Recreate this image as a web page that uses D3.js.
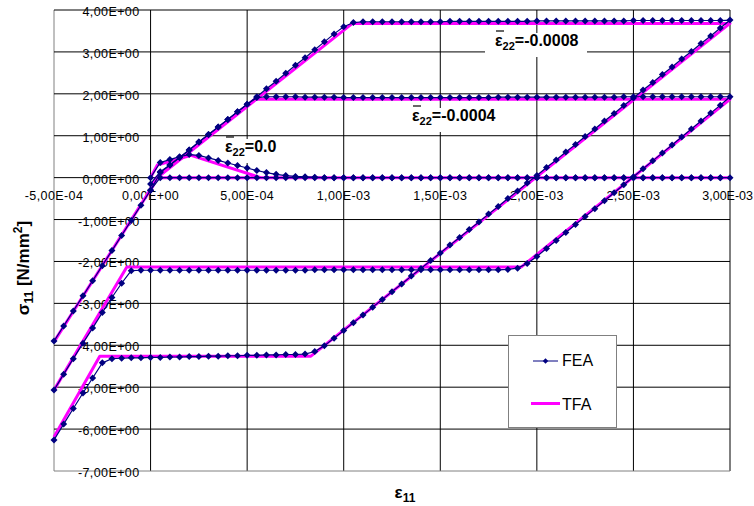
<!DOCTYPE html>
<html>
<head>
<meta charset="utf-8">
<script src="https://cdn.jsdelivr.net/npm/d3@7"></script>
<style>
  body { margin: 0; background: #fff; }
  svg { display: block; font-family: Arial, "Liberation Sans", sans-serif; }
</style>
</head>
<body>
<div id="chart"></div>
<script>
// Strain axis (eps11, in units of 1E-04) and its tick labels.
const xTicks = [-5, 0, 5, 10, 15, 20, 25, 30]
const xTickLabels = ["-5,00E-04", "0,00E+00", "5,00E-04", "1,00E-03", "1,50E-03", "2,00E-03", "2,50E-03", "3,00E-03"]
const yTicks = [4, 3, 2, 1, 0, -1, -2, -3, -4, -5, -6, -7]
const yTickLabels = ["4,00E+00", "3,00E+00", "2,00E+00", "1,00E+00", "0,00E+00", "-1,00E+00", "-2,00E+00", "-3,00E+00", "-4,00E+00", "-5,00E+00", "-6,00E+00", "-7,00E+00"]

const caseLabels = ["0.0", "-0.0004", "-0.0008"]
const seriesNames = ["FEA", "TFA"]

// FEA strain history: load 0 -> 30, unload 30 -> -5 (x 1E-04).
const strain = [
  0, 0.5, 1, 1.5, 2, 2.5, 3, 3.5, 4, 4.5, 5, 5.5, 6, 6.5, 7, 7.5, 8, 8.5, 9, 9.5,
  10, 10.5, 11, 11.5, 12, 12.5, 13, 13.5, 14, 14.5, 15, 15.5, 16, 16.5, 17, 17.5, 18, 18.5, 19, 19.5,
  20, 20.5, 21, 21.5, 22, 22.5, 23, 23.5, 24, 24.5, 25, 25.5, 26, 26.5, 27, 27.5, 28, 28.5, 29, 29.5, 30,
  29.5, 29, 28.5, 28, 27.5, 27, 26.5, 26, 25.5, 25, 24.5, 24, 23.5, 23, 22.5, 22, 21.5, 21, 20.5, 20,
  19.5, 19, 18.5, 18, 17.5, 17, 16.5, 16, 15.5, 15, 14.5, 14, 13.5, 13, 12.5, 12, 11.5, 11, 10.5, 10,
  9.5, 9, 8.5, 8, 7.5, 7, 6.5, 6, 5.5, 5, 4.5, 4, 3.5, 3, 2.5, 2, 1.5, 1, 0.5, 0,
  -0.5, -1, -1.5, -2, -2.5, -3, -3.5, -4, -4.5, -5
]

// FEA stress sigma11 [N/mm2], one value per strain step.
const feaA = [
  0.00, 0.36, 0.43, 0.50, 0.55, 0.53, 0.47, 0.41, 0.35, 0.29, 0.23, 0.17, 0.12, 0.08, 0.05, 0.03, 0.02, 0.01,
  0, 0, 0, 0, 0, 0, 0, 0, 0, 0,
  0, 0, 0, 0, 0, 0, 0, 0, 0, 0,
  0, 0, 0, 0, 0, 0, 0, 0, 0, 0,
  0, 0, 0, 0, 0, 0, 0, 0, 0, 0,
  0, 0, 0,
  0, 0, 0, 0, 0, 0, 0, 0, 0, 0,
  0, 0, 0, 0, 0, 0, 0, 0, 0, 0,
  0, 0, 0, 0, 0, 0, 0, 0, 0, 0,
  0, 0, 0, 0, 0, 0, 0, 0, 0, 0,
  0, 0, 0, 0, 0, 0, 0, 0, 0, 0,
  0, 0, 0, 0, 0, 0, 0, 0, 0,
  -0.30, -0.66, -1.02, -1.38, -1.74, -2.10, -2.46, -2.82, -3.18, -3.54, -3.90
]
const feaB = [
  -0.15, 0.14, 0.30, 0.48, 0.66, 0.85, 1.03, 1.21, 1.39, 1.57, 1.75, 1.91, 1.93,
  1.93, 1.93, 1.93, 1.92, 1.92, 1.92, 1.92, 1.91, 1.91, 1.91,
  1.91, 1.91, 1.91, 1.91, 1.91, 1.91, 1.91, 1.91, 1.91, 1.91,
  1.91, 1.91, 1.91, 1.92, 1.92, 1.92, 1.92, 1.92, 1.92, 1.92,
  1.92, 1.92, 1.92, 1.92, 1.92, 1.92, 1.93, 1.93, 1.93, 1.93,
  1.93, 1.93, 1.93, 1.93, 1.93, 1.93, 1.93, 1.93,
  1.73, 1.54, 1.35, 1.16, 0.97, 0.78, 0.59, 0.40, 0.21, 0.02,
  -0.17, -0.36, -0.55, -0.74, -0.93, -1.12, -1.31, -1.50, -1.69, -1.88,
  -2.05, -2.16, -2.19,
  -2.20, -2.20, -2.20, -2.20, -2.20, -2.20, -2.20, -2.20, -2.20, -2.20,
  -2.20, -2.20, -2.20, -2.20, -2.20, -2.20, -2.20, -2.20, -2.20, -2.20,
  -2.21, -2.21, -2.21, -2.21, -2.21, -2.21, -2.21, -2.21, -2.21, -2.21,
  -2.21, -2.21, -2.21, -2.21, -2.21, -2.21, -2.21, -2.21, -2.22,
  -2.52, -2.86, -3.22, -3.59, -3.95, -4.32, -4.69, -5.07
]
const feaC = [
  -0.30, 0.12, 0.30, 0.48, 0.66, 0.85, 1.03, 1.21, 1.39, 1.57,
  1.75, 1.93, 2.12, 2.30, 2.49, 2.68, 2.86, 3.05, 3.24, 3.43,
  3.60, 3.70, 3.72,
  3.72, 3.72, 3.72, 3.72, 3.72, 3.72, 3.72, 3.72, 3.73, 3.73,
  3.73, 3.73, 3.73, 3.73, 3.73, 3.73, 3.73, 3.74, 3.74, 3.74,
  3.74, 3.74, 3.74, 3.74, 3.74, 3.74, 3.74, 3.75, 3.75, 3.75,
  3.75, 3.75, 3.75, 3.75, 3.75, 3.75, 3.75, 3.76,
  3.57, 3.38, 3.20, 3.01, 2.83, 2.64, 2.46, 2.27, 2.09, 1.90,
  1.72, 1.53, 1.35, 1.16, 0.98, 0.79, 0.61, 0.42, 0.24, 0.05,
  -0.13, -0.32, -0.50, -0.69, -0.87, -1.06, -1.24, -1.43, -1.61, -1.80,
  -1.98, -2.17, -2.35, -2.54, -2.72, -2.91, -3.09, -3.28, -3.46, -3.65,
  -3.83, -4.01, -4.15, -4.21,
  -4.22, -4.22, -4.23, -4.23, -4.24, -4.24, -4.25, -4.25, -4.26, -4.26,
  -4.27, -4.27, -4.28, -4.28, -4.29, -4.29, -4.30, -4.30, -4.31, -4.32,
  -4.42, -4.78, -5.14, -5.51, -5.88, -6.26
]

// TFA corner points [eps11 x 1E-04, sigma11].
const tfaA = [[0, 0], [0.35, 0.30], [2.1, 0.53], [5.7, 0], [30, 0], [0.3, 0], [0, -0.28], [-5, -3.92]]
const tfaB = [[0, -0.25], [0.32, 0], [5.4, 1.87], [30, 1.87], [19.2, -2.13], [-1.23, -2.13], [-5, -5.07]]
const tfaC = [[0, -0.3], [0.35, 0], [10.45, 3.68], [30, 3.68], [8.3, -4.26], [-2.63, -4.26], [-5, -6.19]]

let width = 754
let height = 506
let plot = {left: 54, right: 730, top: 10, bottom: 471}

let x = d3.scaleLinear().domain([-5, 30]).range([plot.left, plot.right])
let y = d3.scaleLinear().domain([-7, 4]).range([plot.bottom, plot.top])

let svg = d3.select("#chart").append("svg")
    .attr("width", width)
    .attr("height", height)

// Gridlines.
let grid = svg.append("g")
grid.selectAll(".vx")
    .data(xTicks)
    .enter().append("line")
    .attr("x1", d => x(d)).attr("x2", d => x(d))
    .attr("y1", plot.top).attr("y2", plot.bottom)
    .attr("stroke", d => d === xTicks[0] ? "#808080" : "#000")
grid.selectAll(".hy")
    .data(yTicks)
    .enter().append("line")
    .attr("x1", plot.left).attr("x2", plot.right)
    .attr("y1", d => y(d)).attr("y2", d => y(d))
    .attr("stroke", d => d === -7 ? "#808080" : "#000")

// Tick labels sit on the axes that cross at the origin.
svg.append("g")
  .selectAll("text")
  .data(yTicks)
  .enter().append("text")
    .attr("x", x(0) - 11)
    .attr("y", d => y(d) + 6)
    .attr("text-anchor", "end")
    .attr("font-size", 12.5)
    .attr("letter-spacing", 0.4)
    .text((d, i) => yTickLabels[i])
let last = xTicks.length - 1
svg.append("g")
  .selectAll("text")
  .data(xTicks)
  .enter().append("text")
    .attr("x", (d, i) => i === last ? width - 1 : x(d))
    .attr("y", y(0) + 22)
    .attr("text-anchor", (d, i) => i === last ? "end" : "middle")
    .attr("font-size", 12.5)
    .attr("letter-spacing", (d, i) => i === last ? 0 : 0.4)
    .text((d, i) => xTickLabels[i])

// Case labels with white boxes.
let labelPos = [[225, 152, 60], [412, 121, 100], [495, 46, 102]]
caseLabels.forEach((lab, i) => {
  let [lx, ly, bw] = labelPos[i]
  let g = svg.append("g")
  g.append("rect")
      .attr("x", lx - (i === 0 ? 4 : 10)).attr("y", ly - 13)
      .attr("width", bw).attr("height", 24)
      .attr("fill", "#fff")
  let t = g.append("text")
      .attr("x", lx).attr("y", ly)
      .attr("font-size", 16).attr("font-weight", "bold")
  t.append("tspan").text("ε")
  t.append("tspan").attr("dy", 4).attr("font-size", 11).text("22")
  t.append("tspan").attr("dy", -4).text("=" + lab)
  g.append("line")
      .attr("x1", lx + 1).attr("x2", lx + 9)
      .attr("y1", ly - 15).attr("y2", ly - 15)
      .attr("stroke", "#000").attr("stroke-width", 1.2)
})

// TFA lines.
let line = d3.line()
    .x(d => x(d[0]))
    .y(d => y(d[1]))
svg.append("g")
  .selectAll("path")
  .data([tfaA, tfaB, tfaC])
  .enter().append("path")
    .attr("d", line)
    .attr("fill", "none")
    .attr("stroke", "#ff00ff")
    .attr("stroke-width", 3)
    .attr("stroke-linejoin", "round")

// FEA lines and markers.
let diamond = {
  draw(ctx, size) {
    let r = Math.sqrt(size) / 2
    ctx.moveTo(0, -r)
    ctx.lineTo(r, 0)
    ctx.lineTo(0, r)
    ctx.lineTo(-r, 0)
    ctx.closePath()
  }
}
let fea = [feaA, feaB, feaC].map(s => s.map((v, i) => [strain[i], v]))
let gFea = svg.append("g")
gFea.selectAll("path.line")
    .data(fea)
    .enter().append("path")
    .attr("class", "line")
    .attr("d", line)
    .attr("fill", "none")
    .attr("stroke", "#000080")
    .attr("stroke-width", 1.2)
gFea.selectAll("path.mark")
    .data(fea.flat())
    .enter().append("path")
    .attr("class", "mark")
    .attr("transform", d => `translate(${x(d[0])},${y(d[1])})`)
    .attr("d", d3.symbol(diamond, 49))
    .attr("fill", "#000080")

// Legend.
let legend = svg.append("g")
legend.append("rect")
    .attr("x", 508.5).attr("y", 335.5)
    .attr("width", 108).attr("height", 92)
    .attr("fill", "#fff").attr("stroke", "#808080")
legend.append("line")
    .attr("x1", 533).attr("x2", 558).attr("y1", 361).attr("y2", 361)
    .attr("stroke", "#000080")
legend.append("path")
    .attr("transform", "translate(545.5,361)")
    .attr("d", d3.symbol(diamond, 30))
    .attr("fill", "#000080")
legend.append("line")
    .attr("x1", 531).attr("x2", 560).attr("y1", 403.5).attr("y2", 403.5)
    .attr("stroke", "#ff00ff").attr("stroke-width", 3)
legend.selectAll("text")
    .data(seriesNames)
    .enter().append("text")
    .attr("x", 562)
    .attr("y", (d, i) => i === 0 ? 366 : 410)
    .attr("font-size", 16)
    .text(d => d)

// Axis titles.
let yt = svg.append("text")
    .attr("transform", "translate(29,268) rotate(-90)")
    .attr("text-anchor", "middle")
    .attr("font-size", 17).attr("font-weight", "bold")
yt.append("tspan").text("σ")
yt.append("tspan").attr("dy", 4).attr("font-size", 12).text("11")
yt.append("tspan").attr("dy", -4).text(" [N/mm")
yt.append("tspan").attr("dy", -7).attr("font-size", 12).text("2")
yt.append("tspan").attr("dy", 7).text("]")

let xt = svg.append("text")
    .attr("x", 405).attr("y", 498)
    .attr("text-anchor", "middle")
    .attr("font-size", 17).attr("font-weight", "bold")
xt.append("tspan").text("ε")
xt.append("tspan").attr("dy", 4).attr("font-size", 12).text("11")
</script>
</body>
</html>
